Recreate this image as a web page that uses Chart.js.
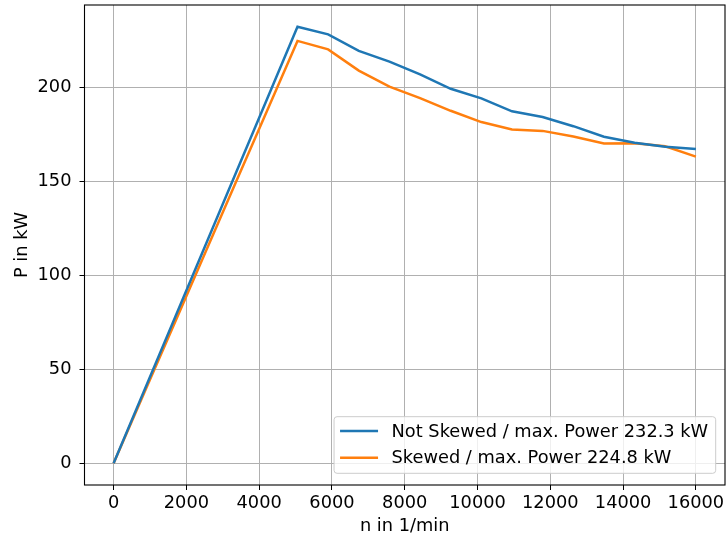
<!DOCTYPE html>
<html>
<head>
<meta charset="utf-8">
<script src="https://cdn.jsdelivr.net/npm/chart.js@4/dist/chart.umd.min.js"></script>
<style>
  html, body { margin: 0; padding: 0; background: #fff; }
  #wrap { width: 727px; height: 540px; }
</style>
</head>
<body>
<div id="wrap"><canvas id="chart" width="727" height="540"></canvas></div>
<script>
// speed points (1/min)
const speeds = [0, 842, 1684, 2526, 3368, 4211, 5053, 5895, 6737, 7579,
  8421, 9263, 10105, 10947, 11789, 12632, 13474, 14316, 15158, 16000];
// power, kW
const notSkewed = [0, 38.7, 77.4, 116.2, 154.9, 193.6, 232.3, 228.3, 219.5, 213.8,
  207.0, 199.3, 194.2, 187.3, 184.3, 179.4, 173.8, 170.6, 168.4, 167.2];
const skewed = [0, 37.5, 74.9, 112.4, 149.9, 187.3, 224.8, 220.3, 209.0, 200.5,
  194.3, 187.6, 181.6, 177.6, 176.9, 173.9, 170.2, 170.3, 168.7, 163.2];

const seriesLabels = ['Not Skewed / max. Power 232.3 kW', 'Skewed / max. Power 224.8 kW'];
const xTicks = [0, 2000, 4000, 6000, 8000, 10000, 12000, 14000, 16000];
const yTicks = [0, 50, 100, 150, 200];

const FONT = 'DejaVu Sans';
const FS = 17.8;
const BLUE = '#1f77b4';
const ORANGE = '#ff7f0e';

// frame around the plot area, like matplotlib spines
const framePlugin = {
  id: 'frame',
  afterDatasetsDraw(chart) {
    const { ctx, chartArea: a } = chart;
    ctx.save();
    ctx.strokeStyle = '#000';
    ctx.lineWidth = 1.1;
    ctx.strokeRect(a.left, a.top, a.right - a.left, a.bottom - a.top);
    ctx.restore();
  }
};

// legend box in lower right corner of the axes
const legendPlugin = {
  id: 'boxLegend',
  afterDraw(chart) {
    const { ctx, chartArea: a } = chart;
    const colors = chart.data.datasets.map(d => d.borderColor);
    ctx.save();
    ctx.font = FS + 'px "' + FONT + '"';
    const tw = Math.max(...seriesLabels.map(s => ctx.measureText(s).width));
    const handle = 38, padL = 6, gap = 13.5, padR = 7.5, rowH = 26.7;
    const w = padL + handle + gap + tw + padR;
    const h = 14.3 + rowH + 15.6;
    const right = a.right - 9.3, bottom = a.bottom - 11.7;
    const left = right - w, top = bottom - h;
    ctx.beginPath();
    ctx.roundRect(left, top, w, h, 3);
    ctx.fillStyle = 'rgba(255,255,255,0.8)';
    ctx.fill();
    ctx.strokeStyle = '#cccccc';
    ctx.lineWidth = 1;
    ctx.stroke();
    ctx.textBaseline = 'middle';
    ctx.fillStyle = '#000';
    seriesLabels.forEach((s, i) => {
      const y = top + 14.3 + i * rowH;
      ctx.beginPath();
      ctx.moveTo(left + padL, y);
      ctx.lineTo(left + padL + handle, y);
      ctx.strokeStyle = colors[i];
      ctx.lineWidth = 2.5;
      ctx.stroke();
      ctx.fillText(s, left + padL + handle + gap, y + 1);
    });
    ctx.restore();
  }
};

new Chart(document.getElementById('chart'), {
  type: 'line',
  data: {
    datasets: [
      {
        label: seriesLabels[0],
        data: speeds.map((n, i) => ({ x: n, y: notSkewed[i] })),
        borderColor: BLUE,
        borderWidth: 2.5,
        pointRadius: 0,
        tension: 0,
        fill: false
      },
      {
        label: seriesLabels[1],
        data: speeds.map((n, i) => ({ x: n, y: skewed[i] })),
        borderColor: ORANGE,
        borderWidth: 2.5,
        pointRadius: 0,
        tension: 0,
        fill: false
      }
    ]
  },
  options: {
    responsive: false,
    animation: false,
    devicePixelRatio: 1,
    layout: { padding: { top: 5, right: 2, left: 0, bottom: 0 } },
    plugins: {
      legend: { display: false },
      tooltip: { enabled: false }
    },
    scales: {
      x: {
        type: 'linear',
        min: -800,
        max: 16800,
        afterBuildTicks: axis => { axis.ticks = xTicks.map(v => ({ value: v })); },
        afterFit: scale => {
          scale.height = 55;
          scale.paddingLeft = 0;
          scale.paddingRight = 0;
        },
        grid: { color: '#b0b0b0', lineWidth: 1, tickLength: 5, tickColor: '#000', drawTicks: true },
        border: { display: false },
        ticks: {
          color: '#000',
          font: { family: FONT, size: FS },
          padding: 3,
          maxRotation: 0,
          callback: v => String(v)
        },
        title: {
          display: true,
          text: 'n in 1/min',
          color: '#000',
          font: { family: FONT, size: FS },
          padding: { top: 0, bottom: 3 }
        }
      },
      y: {
        type: 'linear',
        min: -11.615,
        max: 243.915,
        afterBuildTicks: axis => { axis.ticks = yTicks.map(v => ({ value: v })); },
        afterFit: scale => {
          scale.width = 84.5;
          scale.paddingTop = 0;
          scale.paddingBottom = 0;
        },
        grid: { color: '#b0b0b0', lineWidth: 1, tickLength: 5, tickColor: '#000', drawTicks: true },
        border: { display: false },
        ticks: {
          color: '#000',
          font: { family: FONT, size: FS },
          padding: 8,
          callback: v => String(v)
        },
        title: {
          display: true,
          text: 'P in kW',
          color: '#000',
          font: { family: FONT, size: FS },
          padding: { top: 12, bottom: 0 }
        }
      }
    }
  },
  plugins: [framePlugin, legendPlugin]
});
</script>
</body>
</html>
